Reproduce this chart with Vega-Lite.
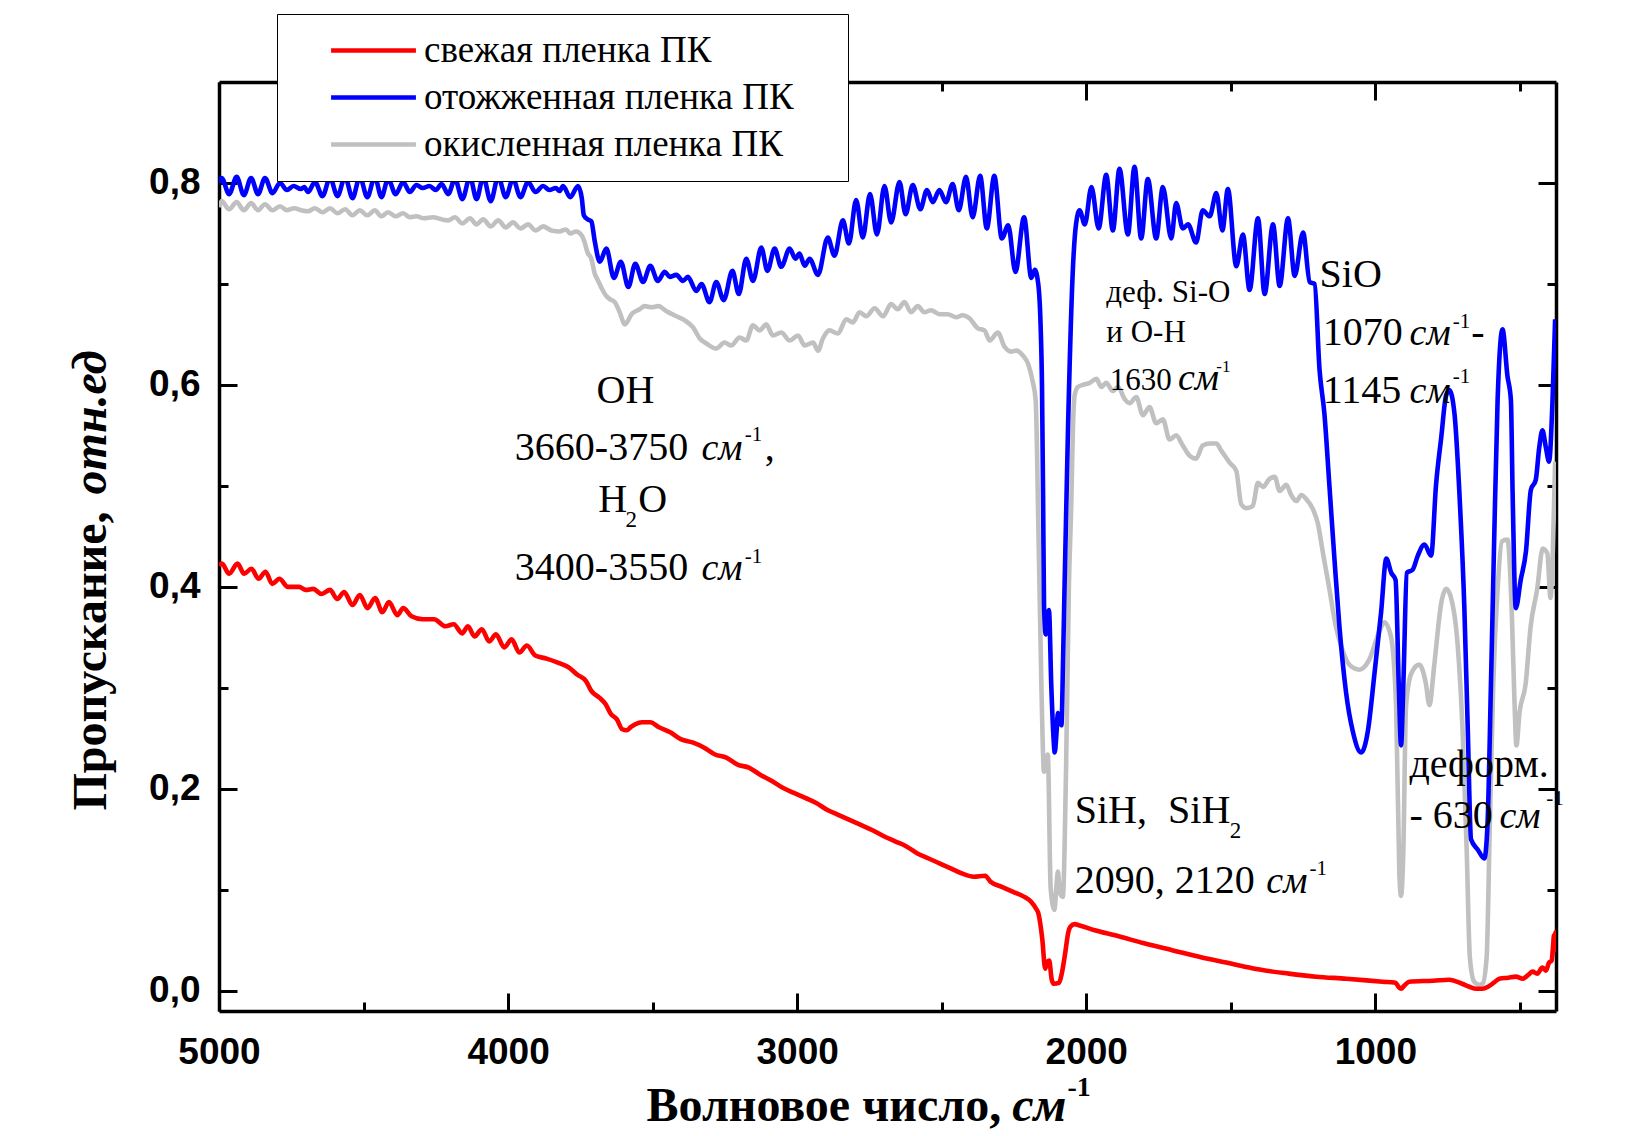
{
  "$schema": "https://vega.github.io/schema/vega-lite/v6.json",
  "width": 1337,
  "height": 929,
  "autosize": {"type": "none"},
  "padding": {"left": 219, "top": 82, "right": 94, "bottom": 125},
  "background": "white",
  "config": {
    "view": {"stroke": null},
    "axis": {"grid": false, "domainColor": "black", "tickColor": "black", "domainWidth": 3.5, "tickWidth": 3, "labelFont": "Liberation Sans", "labelFontWeight": "bold", "labelFontSize": 37, "labelColor": "black", "titleColor": "black", "titleFont": "Liberation Serif", "titleFontWeight": "bold", "titleFontSize": 48, "labelFlush": false, "labelOverlap": false}
  },
  "datasets": {
    "spectra": [
      {"k":"g","wn":5000,"t":0.776},{"k":"g","wn":4991,"t":0.782},{"k":"g","wn":4965,"t":0.774},{"k":"g","wn":4939,"t":0.781},{"k":"g","wn":4914,"t":0.773},{"k":"g","wn":4889,"t":0.780},{"k":"g","wn":4865,"t":0.773},{"k":"g","wn":4841,"t":0.779},{"k":"g","wn":4815,"t":0.773},{"k":"g","wn":4789,"t":0.777},{"k":"g","wn":4765,"t":0.773},{"k":"g","wn":4740,"t":0.775},{"k":"g","wn":4715,"t":0.773},{"k":"g","wn":4692,"t":0.772},{"k":"g","wn":4668,"t":0.775},{"k":"g","wn":4642,"t":0.771},{"k":"g","wn":4616,"t":0.775},{"k":"g","wn":4590,"t":0.770},{"k":"g","wn":4564,"t":0.774},{"k":"g","wn":4538,"t":0.768},{"k":"g","wn":4513,"t":0.773},{"k":"g","wn":4487,"t":0.768},{"k":"g","wn":4461,"t":0.773},{"k":"g","wn":4438,"t":0.767},{"k":"g","wn":4415,"t":0.771},{"k":"g","wn":4389,"t":0.767},{"k":"g","wn":4363,"t":0.770},{"k":"g","wn":4340,"t":0.766},{"k":"g","wn":4317,"t":0.767},{"k":"g","wn":4290,"t":0.765},{"k":"g","wn":4260,"t":0.766},{"k":"g","wn":4230,"t":0.764},{"k":"g","wn":4207,"t":0.763},{"k":"g","wn":4184,"t":0.766},{"k":"g","wn":4158,"t":0.760},{"k":"g","wn":4132,"t":0.765},{"k":"g","wn":4109,"t":0.759},{"k":"g","wn":4086,"t":0.764},{"k":"g","wn":4060,"t":0.757},{"k":"g","wn":4034,"t":0.763},{"k":"g","wn":4008,"t":0.756},{"k":"g","wn":3983,"t":0.761},{"k":"g","wn":3957,"t":0.755},{"k":"g","wn":3931,"t":0.759},{"k":"g","wn":3905,"t":0.753},{"k":"g","wn":3879,"t":0.757},{"k":"g","wn":3850,"t":0.753},{"k":"g","wn":3822,"t":0.752},{"k":"g","wn":3800,"t":0.754},{"k":"g","wn":3785,"t":0.750},{"k":"g","wn":3765,"t":0.752},{"k":"g","wn":3745,"t":0.748},{"k":"g","wn":3735,"t":0.741},{"k":"g","wn":3725,"t":0.731},{"k":"g","wn":3712,"t":0.725},{"k":"g","wn":3700,"t":0.710},{"k":"g","wn":3690,"t":0.704},{"k":"g","wn":3675,"t":0.695},{"k":"g","wn":3660,"t":0.688},{"k":"g","wn":3648,"t":0.685},{"k":"g","wn":3631,"t":0.682},{"k":"g","wn":3614,"t":0.672},{"k":"g","wn":3596,"t":0.660},{"k":"g","wn":3573,"t":0.670},{"k":"g","wn":3545,"t":0.675},{"k":"g","wn":3527,"t":0.678},{"k":"g","wn":3504,"t":0.677},{"k":"g","wn":3481,"t":0.678},{"k":"g","wn":3452,"t":0.673},{"k":"g","wn":3418,"t":0.668},{"k":"g","wn":3389,"t":0.664},{"k":"g","wn":3360,"t":0.657},{"k":"g","wn":3337,"t":0.646},{"k":"g","wn":3314,"t":0.641},{"k":"g","wn":3280,"t":0.636},{"k":"g","wn":3251,"t":0.642},{"k":"g","wn":3228,"t":0.639},{"k":"g","wn":3199,"t":0.647},{"k":"g","wn":3176,"t":0.644},{"k":"g","wn":3153,"t":0.659},{"k":"g","wn":3130,"t":0.654},{"k":"g","wn":3107,"t":0.660},{"k":"g","wn":3084,"t":0.649},{"k":"g","wn":3055,"t":0.652},{"k":"g","wn":3026,"t":0.644},{"k":"g","wn":2997,"t":0.649},{"k":"g","wn":2974,"t":0.639},{"k":"g","wn":2945,"t":0.642},{"k":"g","wn":2928,"t":0.634},{"k":"g","wn":2911,"t":0.646},{"k":"g","wn":2888,"t":0.654},{"k":"g","wn":2859,"t":0.651},{"k":"g","wn":2830,"t":0.665},{"k":"g","wn":2807,"t":0.662},{"k":"g","wn":2784,"t":0.672},{"k":"g","wn":2761,"t":0.668},{"k":"g","wn":2732,"t":0.676},{"k":"g","wn":2703,"t":0.668},{"k":"g","wn":2675,"t":0.680},{"k":"g","wn":2652,"t":0.675},{"k":"g","wn":2629,"t":0.682},{"k":"g","wn":2606,"t":0.672},{"k":"g","wn":2583,"t":0.678},{"k":"g","wn":2560,"t":0.672},{"k":"g","wn":2537,"t":0.674},{"k":"g","wn":2508,"t":0.670},{"k":"g","wn":2479,"t":0.670},{"k":"g","wn":2450,"t":0.667},{"k":"g","wn":2427,"t":0.669},{"k":"g","wn":2404,"t":0.666},{"k":"g","wn":2375,"t":0.656},{"k":"g","wn":2352,"t":0.654},{"k":"g","wn":2334,"t":0.644},{"k":"g","wn":2306,"t":0.652},{"k":"g","wn":2283,"t":0.638},{"k":"g","wn":2260,"t":0.633},{"k":"g","wn":2242,"t":0.634},{"k":"g","wn":2219,"t":0.629},{"k":"g","wn":2200,"t":0.620},{"k":"g","wn":2185,"t":0.603},{"k":"g","wn":2175,"t":0.585},{"k":"g","wn":2165,"t":0.45},{"k":"g","wn":2155,"t":0.30},{"k":"g","wn":2146,"t":0.217},{"k":"g","wn":2140,"t":0.225},{"k":"g","wn":2133,"t":0.234},{"k":"g","wn":2123,"t":0.101},{"k":"g","wn":2110,"t":0.080},{"k":"g","wn":2104,"t":0.100},{"k":"g","wn":2098,"t":0.118},{"k":"g","wn":2092,"t":0.100},{"k":"g","wn":2088,"t":0.095},{"k":"g","wn":2081,"t":0.093},{"k":"g","wn":2070,"t":0.217},{"k":"g","wn":2060,"t":0.40},{"k":"g","wn":2052,"t":0.48},{"k":"g","wn":2046,"t":0.558},{"k":"g","wn":2040,"t":0.590},{"k":"g","wn":2029,"t":0.598},{"k":"g","wn":2012,"t":0.600},{"k":"g","wn":1988,"t":0.602},{"k":"g","wn":1965,"t":0.606},{"k":"g","wn":1948,"t":0.598},{"k":"g","wn":1931,"t":0.602},{"k":"g","wn":1908,"t":0.594},{"k":"g","wn":1890,"t":0.598},{"k":"g","wn":1867,"t":0.586},{"k":"g","wn":1850,"t":0.582},{"k":"g","wn":1827,"t":0.588},{"k":"g","wn":1804,"t":0.570},{"k":"g","wn":1781,"t":0.578},{"k":"g","wn":1758,"t":0.562},{"k":"g","wn":1735,"t":0.566},{"k":"g","wn":1712,"t":0.546},{"k":"g","wn":1689,"t":0.550},{"k":"g","wn":1666,"t":0.540},{"k":"g","wn":1643,"t":0.530},{"k":"g","wn":1620,"t":0.527},{"k":"g","wn":1597,"t":0.540},{"k":"g","wn":1573,"t":0.542},{"k":"g","wn":1550,"t":0.542},{"k":"g","wn":1533,"t":0.535},{"k":"g","wn":1504,"t":0.523},{"k":"g","wn":1481,"t":0.515},{"k":"g","wn":1464,"t":0.482},{"k":"g","wn":1447,"t":0.478},{"k":"g","wn":1424,"t":0.480},{"k":"g","wn":1406,"t":0.503},{"k":"g","wn":1389,"t":0.499},{"k":"g","wn":1366,"t":0.507},{"k":"g","wn":1348,"t":0.509},{"k":"g","wn":1331,"t":0.495},{"k":"g","wn":1308,"t":0.501},{"k":"g","wn":1291,"t":0.491},{"k":"g","wn":1273,"t":0.485},{"k":"g","wn":1256,"t":0.491},{"k":"g","wn":1239,"t":0.487},{"k":"g","wn":1216,"t":0.477},{"k":"g","wn":1199,"t":0.463},{"k":"g","wn":1182,"t":0.435},{"k":"g","wn":1159,"t":0.398},{"k":"g","wn":1136,"t":0.360},{"k":"g","wn":1113,"t":0.337},{"k":"g","wn":1090,"t":0.323},{"k":"g","wn":1055,"t":0.318},{"k":"g","wn":1021,"t":0.328},{"k":"g","wn":986,"t":0.356},{"k":"g","wn":969,"t":0.365},{"k":"g","wn":946,"t":0.351},{"k":"g","wn":928,"t":0.281},{"k":"g","wn":917,"t":0.117},{"k":"g","wn":911,"t":0.094},{"k":"g","wn":903,"t":0.140},{"k":"g","wn":894,"t":0.281},{"k":"g","wn":876,"t":0.314},{"k":"g","wn":848,"t":0.323},{"k":"g","wn":825,"t":0.304},{"k":"g","wn":813,"t":0.283},{"k":"g","wn":796,"t":0.323},{"k":"g","wn":772,"t":0.384},{"k":"g","wn":755,"t":0.398},{"k":"g","wn":738,"t":0.389},{"k":"g","wn":715,"t":0.342},{"k":"g","wn":698,"t":0.257},{"k":"g","wn":684,"t":0.140},{"k":"g","wn":673,"t":0.033},{"k":"g","wn":658,"t":0.009},{"k":"g","wn":640,"t":0.006},{"k":"g","wn":629,"t":0.007},{"k":"g","wn":615,"t":0.033},{"k":"g","wn":604,"t":0.164},{"k":"g","wn":592,"t":0.304},{"k":"g","wn":577,"t":0.398},{"k":"g","wn":562,"t":0.445},{"k":"g","wn":543,"t":0.447},{"k":"g","wn":528,"t":0.375},{"k":"g","wn":518,"t":0.281},{"k":"g","wn":512,"t":0.243},{"k":"g","wn":501,"t":0.276},{"k":"g","wn":480,"t":0.304},{"k":"g","wn":463,"t":0.360},{"k":"g","wn":440,"t":0.398},{"k":"g","wn":421,"t":0.438},{"k":"g","wn":405,"t":0.433},{"k":"g","wn":394,"t":0.389},{"k":"g","wn":386,"t":0.435},{"k":"g","wn":378,"t":0.524},
      {"k":"r","wn":5000,"t":0.421},{"k":"r","wn":4990,"t":0.423},{"k":"r","wn":4965,"t":0.413},{"k":"r","wn":4936,"t":0.423},{"k":"r","wn":4913,"t":0.413},{"k":"r","wn":4888,"t":0.418},{"k":"r","wn":4863,"t":0.408},{"k":"r","wn":4839,"t":0.415},{"k":"r","wn":4816,"t":0.403},{"k":"r","wn":4791,"t":0.408},{"k":"r","wn":4762,"t":0.400},{"k":"r","wn":4723,"t":0.400},{"k":"r","wn":4700,"t":0.397},{"k":"r","wn":4674,"t":0.398},{"k":"r","wn":4645,"t":0.393},{"k":"r","wn":4616,"t":0.397},{"k":"r","wn":4591,"t":0.388},{"k":"r","wn":4567,"t":0.395},{"k":"r","wn":4538,"t":0.382},{"k":"r","wn":4513,"t":0.392},{"k":"r","wn":4486,"t":0.379},{"k":"r","wn":4460,"t":0.389},{"k":"r","wn":4435,"t":0.375},{"k":"r","wn":4412,"t":0.385},{"k":"r","wn":4383,"t":0.372},{"k":"r","wn":4363,"t":0.379},{"k":"r","wn":4334,"t":0.371},{"k":"r","wn":4295,"t":0.368},{"k":"r","wn":4256,"t":0.368},{"k":"r","wn":4217,"t":0.361},{"k":"r","wn":4188,"t":0.363},{"k":"r","wn":4159,"t":0.354},{"k":"r","wn":4139,"t":0.361},{"k":"r","wn":4116,"t":0.351},{"k":"r","wn":4091,"t":0.358},{"k":"r","wn":4065,"t":0.346},{"k":"r","wn":4042,"t":0.353},{"k":"r","wn":4013,"t":0.340},{"k":"r","wn":3988,"t":0.348},{"k":"r","wn":3961,"t":0.335},{"k":"r","wn":3935,"t":0.342},{"k":"r","wn":3906,"t":0.332},{"k":"r","wn":3867,"t":0.329},{"k":"r","wn":3828,"t":0.325},{"k":"r","wn":3789,"t":0.320},{"k":"r","wn":3760,"t":0.313},{"k":"r","wn":3731,"t":0.307},{"k":"r","wn":3712,"t":0.297},{"k":"r","wn":3683,"t":0.290},{"k":"r","wn":3663,"t":0.284},{"k":"r","wn":3644,"t":0.274},{"k":"r","wn":3624,"t":0.269},{"k":"r","wn":3605,"t":0.259},{"k":"r","wn":3590,"t":0.258},{"k":"r","wn":3576,"t":0.261},{"k":"r","wn":3560,"t":0.264},{"k":"r","wn":3537,"t":0.266},{"k":"r","wn":3508,"t":0.266},{"k":"r","wn":3478,"t":0.261},{"k":"r","wn":3439,"t":0.256},{"k":"r","wn":3401,"t":0.249},{"k":"r","wn":3362,"t":0.246},{"k":"r","wn":3323,"t":0.241},{"k":"r","wn":3284,"t":0.234},{"k":"r","wn":3245,"t":0.231},{"k":"r","wn":3206,"t":0.224},{"k":"r","wn":3167,"t":0.221},{"k":"r","wn":3128,"t":0.214},{"k":"r","wn":3089,"t":0.208},{"k":"r","wn":3050,"t":0.201},{"k":"r","wn":3011,"t":0.196},{"k":"r","wn":2972,"t":0.191},{"k":"r","wn":2934,"t":0.186},{"k":"r","wn":2895,"t":0.179},{"k":"r","wn":2856,"t":0.174},{"k":"r","wn":2817,"t":0.169},{"k":"r","wn":2778,"t":0.164},{"k":"r","wn":2739,"t":0.159},{"k":"r","wn":2700,"t":0.153},{"k":"r","wn":2661,"t":0.148},{"k":"r","wn":2622,"t":0.143},{"k":"r","wn":2584,"t":0.136},{"k":"r","wn":2545,"t":0.131},{"k":"r","wn":2506,"t":0.126},{"k":"r","wn":2467,"t":0.121},{"k":"r","wn":2428,"t":0.116},{"k":"r","wn":2389,"t":0.113},{"k":"r","wn":2350,"t":0.114},{"k":"r","wn":2331,"t":0.108},{"k":"r","wn":2292,"t":0.103},{"k":"r","wn":2253,"t":0.098},{"k":"r","wn":2214,"t":0.093},{"k":"r","wn":2190,"t":0.088},{"k":"r","wn":2175,"t":0.082},{"k":"r","wn":2165,"t":0.076},{"k":"r","wn":2152,"t":0.051},{"k":"r","wn":2142,"t":0.022},{"k":"r","wn":2135,"t":0.028},{"k":"r","wn":2128,"t":0.030},{"k":"r","wn":2120,"t":0.012},{"k":"r","wn":2113,"t":0.007},{"k":"r","wn":2094,"t":0.008},{"k":"r","wn":2084,"t":0.018},{"k":"r","wn":2074,"t":0.035},{"k":"r","wn":2062,"t":0.058},{"k":"r","wn":2055,"t":0.0635},{"k":"r","wn":2040,"t":0.066},{"k":"r","wn":2026,"t":0.065},{"k":"r","wn":1971,"t":0.060},{"k":"r","wn":1900,"t":0.055},{"k":"r","wn":1800,"t":0.047},{"k":"r","wn":1700,"t":0.040},{"k":"r","wn":1600,"t":0.033},{"k":"r","wn":1500,"t":0.027},{"k":"r","wn":1435,"t":0.023},{"k":"r","wn":1400,"t":0.021},{"k":"r","wn":1300,"t":0.017},{"k":"r","wn":1205,"t":0.014},{"k":"r","wn":1100,"t":0.012},{"k":"r","wn":975,"t":0.009},{"k":"r","wn":930,"t":0.008},{"k":"r","wn":920,"t":0.004},{"k":"r","wn":911,"t":0.002},{"k":"r","wn":900,"t":0.005},{"k":"r","wn":883,"t":0.009},{"k":"r","wn":800,"t":0.010},{"k":"r","wn":744,"t":0.011},{"k":"r","wn":700,"t":0.007},{"k":"r","wn":675,"t":0.004},{"k":"r","wn":650,"t":0.002},{"k":"r","wn":630,"t":0.002},{"k":"r","wn":610,"t":0.004},{"k":"r","wn":590,"t":0.008},{"k":"r","wn":571,"t":0.012},{"k":"r","wn":540,"t":0.013},{"k":"r","wn":514,"t":0.014},{"k":"r","wn":490,"t":0.012},{"k":"r","wn":470,"t":0.016},{"k":"r","wn":456,"t":0.019},{"k":"r","wn":440,"t":0.017},{"k":"r","wn":422,"t":0.023},{"k":"r","wn":410,"t":0.020},{"k":"r","wn":399,"t":0.028},{"k":"r","wn":390,"t":0.030},{"k":"r","wn":385,"t":0.045},{"k":"r","wn":382,"t":0.055},{"k":"r","wn":380,"t":0.040},{"k":"r","wn":377,"t":0.058},{"k":"r","wn":375,"t":0.050},
      {"k":"b","wn":5000,"t":0.800},{"k":"b","wn":4991,"t":0.805},{"k":"b","wn":4965,"t":0.789},{"k":"b","wn":4939,"t":0.806},{"k":"b","wn":4914,"t":0.788},{"k":"b","wn":4889,"t":0.805},{"k":"b","wn":4865,"t":0.789},{"k":"b","wn":4841,"t":0.805},{"k":"b","wn":4815,"t":0.790},{"k":"b","wn":4789,"t":0.800},{"k":"b","wn":4765,"t":0.793},{"k":"b","wn":4742,"t":0.797},{"k":"b","wn":4717,"t":0.794},{"k":"b","wn":4705,"t":0.796},{"k":"b","wn":4692,"t":0.791},{"k":"b","wn":4668,"t":0.801},{"k":"b","wn":4642,"t":0.787},{"k":"b","wn":4616,"t":0.805},{"k":"b","wn":4590,"t":0.787},{"k":"b","wn":4564,"t":0.806},{"k":"b","wn":4538,"t":0.785},{"k":"b","wn":4513,"t":0.806},{"k":"b","wn":4487,"t":0.786},{"k":"b","wn":4461,"t":0.806},{"k":"b","wn":4438,"t":0.786},{"k":"b","wn":4415,"t":0.804},{"k":"b","wn":4389,"t":0.789},{"k":"b","wn":4363,"t":0.801},{"k":"b","wn":4340,"t":0.791},{"k":"b","wn":4317,"t":0.798},{"k":"b","wn":4295,"t":0.795},{"k":"b","wn":4272,"t":0.797},{"k":"b","wn":4250,"t":0.793},{"k":"b","wn":4230,"t":0.799},{"k":"b","wn":4207,"t":0.789},{"k":"b","wn":4184,"t":0.804},{"k":"b","wn":4158,"t":0.784},{"k":"b","wn":4132,"t":0.806},{"k":"b","wn":4109,"t":0.784},{"k":"b","wn":4086,"t":0.806},{"k":"b","wn":4060,"t":0.782},{"k":"b","wn":4034,"t":0.806},{"k":"b","wn":4008,"t":0.786},{"k":"b","wn":3983,"t":0.804},{"k":"b","wn":3957,"t":0.786},{"k":"b","wn":3931,"t":0.801},{"k":"b","wn":3905,"t":0.791},{"k":"b","wn":3879,"t":0.797},{"k":"b","wn":3857,"t":0.793},{"k":"b","wn":3835,"t":0.795},{"k":"b","wn":3822,"t":0.792},{"k":"b","wn":3810,"t":0.797},{"k":"b","wn":3785,"t":0.786},{"k":"b","wn":3758,"t":0.797},{"k":"b","wn":3745,"t":0.785},{"k":"b","wn":3738,"t":0.768},{"k":"b","wn":3725,"t":0.764},{"k":"b","wn":3712,"t":0.762},{"k":"b","wn":3700,"t":0.742},{"k":"b","wn":3683,"t":0.722},{"k":"b","wn":3660,"t":0.735},{"k":"b","wn":3634,"t":0.706},{"k":"b","wn":3610,"t":0.722},{"k":"b","wn":3584,"t":0.697},{"k":"b","wn":3560,"t":0.720},{"k":"b","wn":3533,"t":0.702},{"k":"b","wn":3508,"t":0.718},{"k":"b","wn":3482,"t":0.703},{"k":"b","wn":3458,"t":0.712},{"k":"b","wn":3441,"t":0.707},{"k":"b","wn":3418,"t":0.709},{"k":"b","wn":3395,"t":0.703},{"k":"b","wn":3378,"t":0.707},{"k":"b","wn":3349,"t":0.693},{"k":"b","wn":3331,"t":0.700},{"k":"b","wn":3303,"t":0.682},{"k":"b","wn":3280,"t":0.702},{"k":"b","wn":3254,"t":0.684},{"k":"b","wn":3224,"t":0.713},{"k":"b","wn":3202,"t":0.690},{"k":"b","wn":3176,"t":0.725},{"k":"b","wn":3153,"t":0.703},{"k":"b","wn":3124,"t":0.736},{"k":"b","wn":3103,"t":0.713},{"k":"b","wn":3078,"t":0.735},{"k":"b","wn":3055,"t":0.717},{"k":"b","wn":3026,"t":0.735},{"k":"b","wn":3006,"t":0.725},{"k":"b","wn":2992,"t":0.730},{"k":"b","wn":2974,"t":0.718},{"k":"b","wn":2957,"t":0.725},{"k":"b","wn":2928,"t":0.709},{"k":"b","wn":2894,"t":0.746},{"k":"b","wn":2871,"t":0.728},{"k":"b","wn":2842,"t":0.763},{"k":"b","wn":2821,"t":0.740},{"k":"b","wn":2796,"t":0.783},{"k":"b","wn":2773,"t":0.746},{"k":"b","wn":2748,"t":0.789},{"k":"b","wn":2724,"t":0.749},{"k":"b","wn":2698,"t":0.797},{"k":"b","wn":2675,"t":0.761},{"k":"b","wn":2646,"t":0.801},{"k":"b","wn":2625,"t":0.769},{"k":"b","wn":2600,"t":0.798},{"k":"b","wn":2574,"t":0.774},{"k":"b","wn":2551,"t":0.793},{"k":"b","wn":2531,"t":0.781},{"k":"b","wn":2508,"t":0.793},{"k":"b","wn":2485,"t":0.781},{"k":"b","wn":2462,"t":0.799},{"k":"b","wn":2441,"t":0.773},{"k":"b","wn":2416,"t":0.806},{"k":"b","wn":2393,"t":0.766},{"k":"b","wn":2367,"t":0.807},{"k":"b","wn":2344,"t":0.755},{"k":"b","wn":2318,"t":0.807},{"k":"b","wn":2292,"t":0.745},{"k":"b","wn":2270,"t":0.758},{"k":"b","wn":2245,"t":0.712},{"k":"b","wn":2215,"t":0.766},{"k":"b","wn":2190,"t":0.706},{"k":"b","wn":2178,"t":0.714},{"k":"b","wn":2166,"t":0.700},{"k":"b","wn":2158,"t":0.660},{"k":"b","wn":2153,"t":0.598},{"k":"b","wn":2149,"t":0.48},{"k":"b","wn":2146,"t":0.381},{"k":"b","wn":2140,"t":0.353},{"k":"b","wn":2134,"t":0.372},{"k":"b","wn":2129,"t":0.377},{"k":"b","wn":2121,"t":0.303},{"k":"b","wn":2114,"t":0.255},{"k":"b","wn":2109,"t":0.236},{"k":"b","wn":2103,"t":0.255},{"k":"b","wn":2098,"t":0.275},{"k":"b","wn":2092,"t":0.268},{"k":"b","wn":2086,"t":0.263},{"k":"b","wn":2080,"t":0.33},{"k":"b","wn":2075,"t":0.401},{"k":"b","wn":2063,"t":0.558},{"k":"b","wn":2046,"t":0.716},{"k":"b","wn":2035,"t":0.760},{"k":"b","wn":2023,"t":0.773},{"k":"b","wn":2005,"t":0.759},{"k":"b","wn":1982,"t":0.796},{"k":"b","wn":1957,"t":0.755},{"k":"b","wn":1931,"t":0.808},{"k":"b","wn":1908,"t":0.753},{"k":"b","wn":1885,"t":0.814},{"k":"b","wn":1856,"t":0.749},{"k":"b","wn":1833,"t":0.816},{"k":"b","wn":1810,"t":0.745},{"k":"b","wn":1787,"t":0.804},{"k":"b","wn":1758,"t":0.745},{"k":"b","wn":1735,"t":0.796},{"k":"b","wn":1706,"t":0.745},{"k":"b","wn":1689,"t":0.780},{"k":"b","wn":1666,"t":0.755},{"k":"b","wn":1648,"t":0.759},{"k":"b","wn":1620,"t":0.741},{"k":"b","wn":1597,"t":0.773},{"k":"b","wn":1573,"t":0.767},{"k":"b","wn":1550,"t":0.790},{"k":"b","wn":1529,"t":0.753},{"k":"b","wn":1510,"t":0.794},{"k":"b","wn":1481,"t":0.7175},{"k":"b","wn":1458,"t":0.749},{"k":"b","wn":1435,"t":0.694},{"k":"b","wn":1406,"t":0.765},{"k":"b","wn":1383,"t":0.690},{"k":"b","wn":1354,"t":0.759},{"k":"b","wn":1331,"t":0.698},{"k":"b","wn":1302,"t":0.765},{"k":"b","wn":1279,"t":0.708},{"k":"b","wn":1250,"t":0.751},{"k":"b","wn":1227,"t":0.702},{"k":"b","wn":1210,"t":0.700},{"k":"b","wn":1193,"t":0.615},{"k":"b","wn":1176,"t":0.571},{"k":"b","wn":1159,"t":0.501},{"k":"b","wn":1141,"t":0.426},{"k":"b","wn":1124,"t":0.360},{"k":"b","wn":1101,"t":0.295},{"k":"b","wn":1078,"t":0.257},{"k":"b","wn":1049,"t":0.236},{"k":"b","wn":1026,"t":0.257},{"k":"b","wn":1003,"t":0.314},{"k":"b","wn":980,"t":0.375},{"k":"b","wn":962,"t":0.428},{"k":"b","wn":945,"t":0.414},{"k":"b","wn":930,"t":0.407},{"k":"b","wn":919,"t":0.304},{"k":"b","wn":911,"t":0.243},{"k":"b","wn":903,"t":0.304},{"k":"b","wn":891,"t":0.414},{"k":"b","wn":871,"t":0.417},{"k":"b","wn":853,"t":0.431},{"k":"b","wn":830,"t":0.442},{"k":"b","wn":807,"t":0.431},{"k":"b","wn":790,"t":0.501},{"k":"b","wn":772,"t":0.548},{"k":"b","wn":755,"t":0.590},{"k":"b","wn":744,"t":0.595},{"k":"b","wn":726,"t":0.571},{"k":"b","wn":709,"t":0.492},{"k":"b","wn":692,"t":0.379},{"k":"b","wn":680,"t":0.257},{"k":"b","wn":669,"t":0.150},{"k":"b","wn":646,"t":0.140},{"k":"b","wn":623,"t":0.131},{"k":"b","wn":612,"t":0.164},{"k":"b","wn":600,"t":0.304},{"k":"b","wn":589,"t":0.445},{"k":"b","wn":577,"t":0.585},{"k":"b","wn":560,"t":0.655},{"k":"b","wn":543,"t":0.609},{"k":"b","wn":531,"t":0.585},{"k":"b","wn":525,"t":0.492},{"k":"b","wn":514,"t":0.379},{"k":"b","wn":497,"t":0.407},{"k":"b","wn":479,"t":0.435},{"k":"b","wn":462,"t":0.496},{"k":"b","wn":445,"t":0.506},{"k":"b","wn":433,"t":0.538},{"k":"b","wn":422,"t":0.555},{"k":"b","wn":410,"t":0.538},{"k":"b","wn":399,"t":0.524},{"k":"b","wn":387,"t":0.585},{"k":"b","wn":378,"t":0.665}
    ],
    "roman": [
      {"wn":3694,"t":0.5817,"txt":"OH","role":"main"},
      {"wn":3976.5,"t":0.5255,"txt":"3660-3750","role":"main"},
      {"wn":3112,"t":0.5255,"txt":",","role":"main"},
      {"wn":3688.5,"t":0.4745,"txt":"H","role":"main"},
      {"wn":3593.7,"t":0.4596,"txt":"2","role":"sub"},
      {"wn":3550,"t":0.4745,"txt":"O","role":"main"},
      {"wn":3976.5,"t":0.4067,"txt":"3400-3550","role":"main"},
      {"wn":2040,"t":0.1658,"txt":"SiH,","role":"main"},
      {"wn":1717,"t":0.1658,"txt":"SiH","role":"main"},
      {"wn":1504,"t":0.1517,"txt":"2","role":"sub"},
      {"wn":2040,"t":0.0965,"txt":"2090, 2120","role":"main"},
      {"wn":1930.5,"t":0.6824,"txt":"деф. Si-O","role":"small"},
      {"wn":1930.5,"t":0.6428,"txt":"и O-H","role":"small"},
      {"wn":1919,"t":0.5949,"txt":"1630","role":"small"},
      {"wn":1193,"t":0.6972,"txt":"SiO","role":"main"},
      {"wn":1181.5,"t":0.6394,"txt":"1070","role":"main"},
      {"wn":668,"t":0.6394,"txt":"-","role":"main"},
      {"wn":1181.5,"t":0.5817,"txt":"1145","role":"main"},
      {"wn":881.7,"t":0.2121,"txt":"деформ.","role":"main"},
      {"wn":881.7,"t":0.1609,"txt":"- 630","role":"main"}
    ],
    "italic": [
      {"wn":3331,"t":0.5255,"txt":"см","role":"unit"},
      {"wn":3331,"t":0.4067,"txt":"см","role":"unit"},
      {"wn":1377,"t":0.0965,"txt":"см","role":"unit"},
      {"wn":1683,"t":0.5949,"txt":"см","role":"unit"},
      {"wn":881.7,"t":0.6394,"txt":"см","role":"unit"},
      {"wn":881.7,"t":0.5817,"txt":"см","role":"unit"},
      {"wn":570.5,"t":0.1609,"txt":"см","role":"unit"}
    ],
    "sup": [
      {"wn":3181,"t":0.544,"txt":"-1","role":"sup"},
      {"wn":3181,"t":0.4233,"txt":"-1","role":"sup"},
      {"wn":1227.5,"t":0.1144,"txt":"-1","role":"sup"},
      {"wn":1550,"t":0.613,"txt":"-1","role":"supsmall"},
      {"wn":732,"t":0.656,"txt":"-1","role":"sup"},
      {"wn":732,"t":0.6015,"txt":"-1","role":"sup"},
      {"wn":409,"t":0.184,"txt":"-1","role":"sup"}
    ]
  },
  "layer": [
    {
      "data": {"name": "spectra"},
      "mark": {"type": "line", "interpolate": "monotone", "clip": true},
      "encoding": {
        "x": {"field": "wn", "type": "quantitative", "scale": {"domain": [375, 5000], "reverse": true, "nice": false, "zero": false},
          "axis": {"orient": "bottom", "values": [5000, 4000, 3000, 2000, 1000], "format": "d", "tickSize": -18, "labelPadding": 41, "title": "Волновое число,", "titleAngle": 0, "titleAlign": "left", "titleBaseline": "alphabetic", "titleX": 427, "titleY": 109}},
        "y": {"field": "t", "type": "quantitative", "scale": {"domain": [-0.02, 0.9], "nice": false, "zero": false},
          "axis": {"orient": "left", "values": [0, 0.2, 0.4, 0.6, 0.8], "labelExpr": "replace(format(datum.value, '.1f'), '.', ',')", "tickSize": -18, "labelPadding": 37, "title": "Пропускание,", "titleAngle": -90, "titleAlign": "left", "titleBaseline": "alphabetic", "titleX": -114, "titleY": 728}},
        "color": {"field": "k", "type": "nominal", "scale": {"domain": ["r", "b", "g"], "range": ["#ff0000", "#0000ff", "#c0c0c0"]},
          "legend": {"orient": "none", "legendX": 58, "legendY": -68, "title": " ", "titleOrient": "right", "titlePadding": 36, "titleFontSize": 2, "fillColor": "white", "strokeColor": "black", "padding": 18, "symbolType": "M-3,0L3,0", "symbolSize": 800, "symbolOffset": 60, "labelOffset": 32, "labelFont": "Liberation Serif", "labelFontSize": 37, "labelColor": "black", "labelLimit": 800, "rowPadding": 9,
            "labelExpr": "datum.value === 'r' ? 'свежая пленка ПК' : datum.value === 'b' ? 'отожженная пленка ПК' : 'окисленная пленка ПК'"}},
        "strokeWidth": {"field": "k", "type": "nominal", "scale": {"domain": ["r", "b", "g"], "range": [4.6, 4.6, 1.8]}}
      }
    },
    {
      "data": {"name": "roman"},
      "mark": {"type": "text", "align": "left", "baseline": "alphabetic", "font": "Liberation Serif", "color": "black"},
      "encoding": {
        "x": {"field": "wn", "type": "quantitative", "scale": {"domain": [375, 5000], "reverse": true, "nice": false, "zero": false},
          "axis": {"orient": "bottom", "values": [4500, 3500, 2500, 1500, 500], "tickSize": -9, "labels": false, "domain": false, "title": "см", "titleFontStyle": "italic", "titleAngle": 0, "titleAlign": "right", "titleBaseline": "alphabetic", "titleX": 847, "titleY": 109}},
        "y": {"field": "t", "type": "quantitative", "scale": {"domain": [-0.02, 0.9], "nice": false, "zero": false},
          "axis": {"orient": "left", "values": [0.1, 0.3, 0.5, 0.7], "tickSize": -9, "labels": false, "domain": false, "title": "отн.ед", "titleFontStyle": "italic", "titleAngle": -90, "titleAlign": "right", "titleBaseline": "alphabetic", "titleX": -114, "titleY": 268}},
        "text": {"field": "txt"},
        "size": {"field": "role", "type": "nominal", "scale": {"type": "ordinal", "domain": ["main", "small", "unit", "sub", "sup", "supsmall"], "range": [40, 31, 38, 23, 21, 17]}, "legend": null}
      }
    },
    {
      "data": {"name": "italic"},
      "mark": {"type": "text", "align": "left", "baseline": "alphabetic", "font": "Liberation Serif", "fontStyle": "italic", "color": "black"},
      "encoding": {
        "x": {"field": "wn", "type": "quantitative", "scale": {"domain": [375, 5000], "reverse": true, "nice": false, "zero": false},
          "axis": {"orient": "top", "values": [5000, 4000, 3000, 2000, 1000], "tickSize": -18, "labels": false, "title": null}},
        "y": {"field": "t", "type": "quantitative", "scale": {"domain": [-0.02, 0.9], "nice": false, "zero": false},
          "axis": {"orient": "right", "values": [0, 0.2, 0.4, 0.6, 0.8], "tickSize": -18, "labels": false, "title": null}},
        "text": {"field": "txt"},
        "size": {"field": "role", "type": "nominal", "scale": {"type": "ordinal", "domain": ["main", "small", "unit", "sub", "sup", "supsmall"], "range": [40, 31, 38, 23, 21, 17]}, "legend": null}
      }
    },
    {
      "data": {"name": "sup"},
      "mark": {"type": "text", "align": "left", "baseline": "alphabetic", "font": "Liberation Serif", "color": "black"},
      "encoding": {
        "x": {"field": "wn", "type": "quantitative", "scale": {"domain": [375, 5000], "reverse": true, "nice": false, "zero": false},
          "axis": {"orient": "top", "values": [4500, 3500, 2500, 1500, 500], "tickSize": -9, "labels": false, "domain": false, "title": "-1", "titleFontSize": 28, "titleAngle": 0, "titleAlign": "left", "titleBaseline": "alphabetic", "titleX": 848, "titleY": 1013}},
        "y": {"field": "t", "type": "quantitative", "scale": {"domain": [-0.02, 0.9], "nice": false, "zero": false},
          "axis": {"orient": "right", "values": [0.1, 0.3, 0.5, 0.7], "tickSize": -9, "labels": false, "domain": false, "title": null}},
        "text": {"field": "txt"},
        "size": {"field": "role", "type": "nominal", "scale": {"type": "ordinal", "domain": ["main", "small", "unit", "sub", "sup", "supsmall"], "range": [40, 31, 38, 23, 21, 17]}, "legend": null}
      }
    }
  ],
  "resolve": {"axis": {"x": "independent", "y": "independent"}}
}
